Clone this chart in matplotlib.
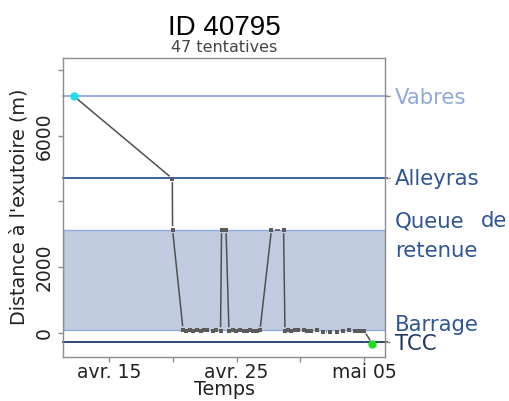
import numpy as np
import pandas as pd
import matplotlib
matplotlib.use("Agg")
import matplotlib.pyplot as plt
import matplotlib.dates as mdates
from matplotlib.collections import LineCollection

# ---------------- data ----------------
# time of each detection, in days counted from 1 April (day 1 = 1 April)
days = [12.26, 19.96, 19.98, 20.80, 21.07, 21.35, 21.62, 21.90, 22.17, 22.45,
        22.68, 23.15, 23.35, 23.74, 23.82, 24.17, 24.40, 24.72, 24.95, 25.27,
        25.58, 25.78, 26.05, 26.29, 26.56, 26.83, 27.73, 28.68, 28.79, 29.03,
        29.26, 29.54, 29.81, 30.28, 30.52, 30.83, 31.30, 31.77, 32.32, 32.83,
        33.34, 33.81, 34.28, 34.51, 34.75, 34.98, 35.63]
distance = [7206, 4700, 3140, 90, 60, 80, 60, 80, 60, 70,
            90, 50, 80, 60, 3140, 3140, 60, 70, 50, 70,
            60, 50, 70, 50, 60, 70, 3140, 3140, 60, 70,
            50, 70, 80, 70, 40, 60, 80, 30, 30, 30,
            60, 90, 50, 60, 50, 60, -330]

site_names = ["Vabres", "Alleyras", "TCC"]
site_dist = [7206, 4714, -293]
site_colors = ["#8FAADC", "#2F5597", "#1F3864"]
queue_top = 3136
barrage = 82

yticks = [0, 2000, 4000, 6000, 8000]
ytick_labels = ["0", "2000", "", "6000", ""]
xtick_days = [15, 20, 25, 30, 35]
xtick_labels = ["avr. 15", "", "avr. 25", "", "mai 05"]

origin = pd.Timestamp("2019-04-01")
def to_num(d):
    return mdates.date2num(origin + pd.to_timedelta(np.asarray(d, float) - 1, unit="D"))

# ---------------- figure ----------------
W, H = 509, 401
fig = plt.figure(figsize=(W / 100, H / 100), dpi=100)
L, R, T, B = 62.7, 384.5, 58, 356.7
ax = fig.add_axes([L / W, 1 - B / H, (R - L) / W, (B - T) / H])

ax.set_xlim(to_num(11.37), to_num(36.59))
ax.set_ylim(-732, 8375)

# reservoir band
ax.axhspan(barrage, queue_top, facecolor="#C2CCE0", edgecolor="#8FAADC",
           linewidth=1.0, zorder=1)
for d, c in zip(site_dist, site_colors):
    ax.axhline(d, xmin=0, xmax=1.008, color=c, lw=1.3, zorder=2, clip_on=False)

# track, R type="b" style (gaps around points)
x = to_num(days)
y = np.asarray(distance, float)
P = ax.transData.transform(np.column_stack([x, y]))
gap = 3.5
segs = []
for i in range(len(P) - 1):
    p0, p1 = P[i], P[i + 1]
    v = p1 - p0
    Ln = np.hypot(*v)
    if Ln <= 2 * gap:
        continue
    u = v / Ln
    a = ax.transData.inverted().transform(p0 + gap * u)
    b = ax.transData.inverted().transform(p1 - gap * u)
    segs.append([a, b])
ax.add_collection(LineCollection(segs, colors="#505050", linewidths=1.1, zorder=3))
ax.plot(x[1:-1], y[1:-1], "s", ms=2.2, color="#5A5A5A", mew=0, zorder=4)
ax.plot(x[0], y[0], "o", ms=6, color="#22DDEE", mew=0, zorder=5)
ax.plot(x[-1], y[-1], "o", ms=6, color="#22DD22", mew=0, zorder=5)

# axes styling
for s in ax.spines.values():
    s.set_color("#8C8C8C")
    s.set_linewidth(1.0)
ax.set_yticks(yticks)
ax.set_yticklabels(ytick_labels, rotation=90, va="center", fontsize=13.5,
                   family="DejaVu Sans", color="#222222")
ax.set_xticks(to_num(xtick_days))
ax.set_xticklabels(xtick_labels, fontsize=13.5, family="DejaVu Sans", color="#222222")
ax.tick_params(axis="both", direction="out", length=3.6, width=1.0, color="#8C8C8C")
ax.tick_params(axis="y", pad=3)
ax.tick_params(axis="x", pad=1)

ax2 = ax.twinx()
ax2.set_ylim(ax.get_ylim())
ax2.set_yticks(site_dist)
ax2.set_yticklabels([])
ax2.tick_params(axis="y", direction="out", length=3.6, width=1.0, color="#8C8C8C")
for s in ax2.spines.values():
    s.set_visible(False)

def px(xp, yp):
    return xp / W, 1 - yp / H

# titles
fig.text(*px(224, 35), "ID 40795", ha="center", va="baseline", fontsize=20,
         family="Liberation Sans", color="black")
fig.text(*px(224, 52), "47 tentatives", ha="center", va="baseline", fontsize=11.5,
         family="DejaVu Sans", color="#444444")
fig.text(*px(19, 207), "Distance à l'exutoire (m)", rotation=90, ha="center",
         va="center", fontsize=13.8, family="DejaVu Sans", color="#222222")
fig.text(*px(224, 395), "Temps", ha="center", va="baseline", fontsize=13.8,
         family="DejaVu Sans", color="#222222")

# right-hand labels
lab_kw = dict(fontsize=15.3, family="DejaVu Sans", va="baseline")
fig.text(*px(395, 104), "Vabres", color="#8EA9DB", **lab_kw)
fig.text(*px(395, 185), "Alleyras", color="#2F5597", **lab_kw)
fig.text(*px(395, 227), "Queue", color="#2F5597", ha="left", **lab_kw)
fig.text(*px(507, 227), "de", color="#2F5597", ha="right", **lab_kw)
fig.text(*px(395, 257), "retenue", color="#2F5597", **lab_kw)
fig.text(*px(395, 331), "Barrage", color="#2F5597", **lab_kw)
fig.text(*px(395, 350), "TCC", color="#1F3864", **lab_kw)

fig.savefig("out.png", dpi=100)
